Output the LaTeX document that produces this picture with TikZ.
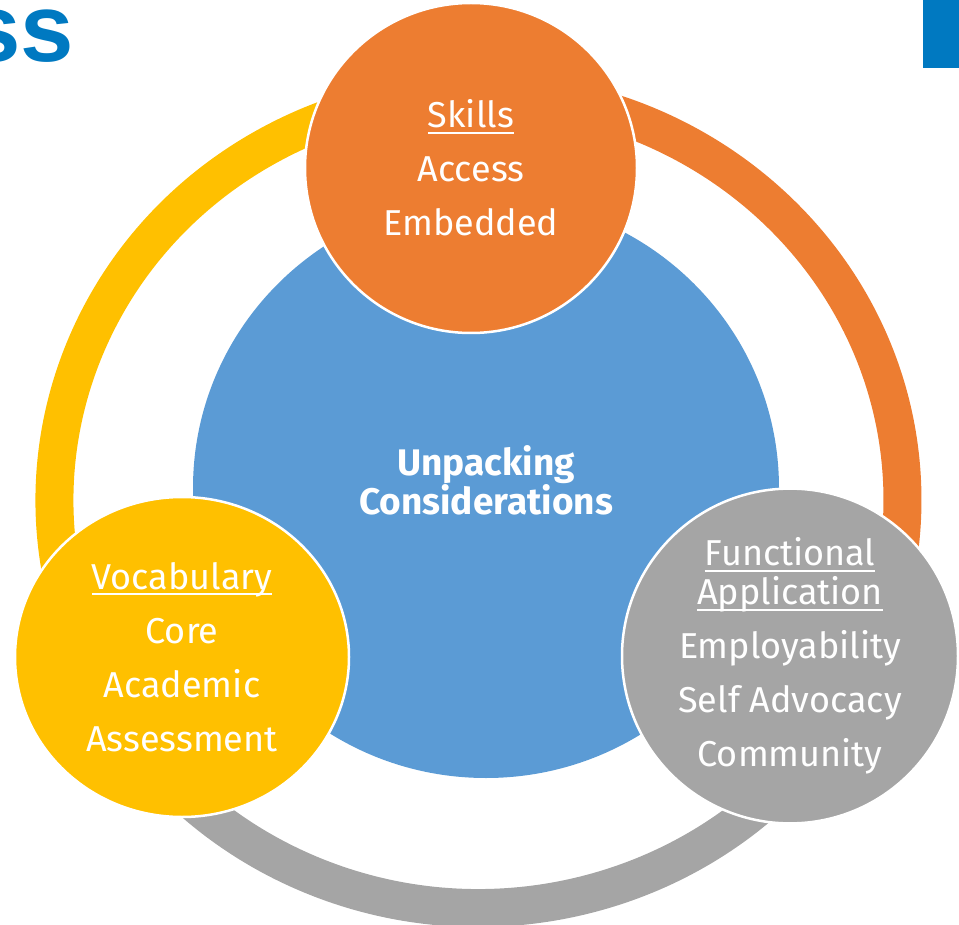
\documentclass[tikz,border=0pt]{standalone}
\usepackage{fontspec}
\setmainfont{Fira Sans}
\newfontfamily\titlefont{Liberation Sans}
\usetikzlibrary{shapes.geometric}

\definecolor{ringorange}{HTML}{ED7D31}
\definecolor{ringyellow}{HTML}{FFC000}
\definecolor{ringgray}{HTML}{A5A5A5}
\definecolor{hubblue}{HTML}{5B9BD5}
\definecolor{titleblue}{HTML}{0079C1}

% underlined heading line: rule at a fixed depth below the baseline
\newcommand\headline[1]{{\setbox0\hbox{#1}\rlap{\rule[-6pt]{\wd0}{2pt}}\box0}}

\tikzset{
  segment/.style={line width=38pt},
  hub/.style={ellipse, fill=hubblue, inner sep=0pt},
  hublabel/.style={inner sep=0pt, text=white, align=center,
    font=\bfseries\fontsize{37}{38}\selectfont},
  satellite/.style={ellipse, draw=white, line width=2.5pt, inner sep=0pt,
    text=white, align=center, font=\fontsize{36}{39}\selectfont},
}

\begin{document}
\begin{tikzpicture}[x=1pt, y=-1pt]
  \useasboundingbox (0,0) rectangle (959,925);
  \clip (0,0) rectangle (959,925);

  % slide title fragment and corner tab
  \node[anchor=base east, inner sep=0pt, text=titleblue,
        font=\titlefont\bfseries\fontsize{96}{96}\selectfont] (title) at (74,62) {ss};
  \fill[titleblue] (923,0) rectangle (959,68);

  % outer ring, split into three coloured segments
  \coordinate (rc) at (478.5,500);
  \draw[segment, ringgray]   ([shift={(26.6:424 and 408)}]rc)
    arc[start angle=26.6, end angle=152.1, x radius=424, y radius=408];
  \draw[segment, ringyellow] ([shift={(152.1:424 and 408)}]rc)
    arc[start angle=152.1, end angle=268.7, x radius=424, y radius=408];
  \draw[segment, ringorange] ([shift={(268.7:424 and 408)}]rc)
    arc[start angle=268.7, end angle=386.6, x radius=424, y radius=408];

  % central circle and its caption
  \node[hub, minimum width=586pt, minimum height=580pt] (hub) at (486,488) {};
  \node[hublabel] (hubtext) at (486,480) {Unpacking\\Considerations};

  % three satellite circles
  \node[satellite, fill=ringorange, minimum width=332pt, minimum height=330pt]
    (skills) at (471,168)
    {\headline{Skills}\\[15pt]Access\\[15pt]Embedded};
  \node[satellite, fill=ringyellow, minimum width=334pt, minimum height=320pt]
    (vocab) at (182,657)
    {\headline{Vocabulary}\\[15pt]Core\\[15pt]Academic\\[15pt]Assessment};
  \node[satellite, fill=ringgray, minimum width=336pt, minimum height=320pt]
    (func) at (790,656)
    {\headline{Functional}\\\headline{Application}\\[15pt]Employability\\[15pt]Self Advocacy\\[15pt]Community};
\end{tikzpicture}
\end{document}
